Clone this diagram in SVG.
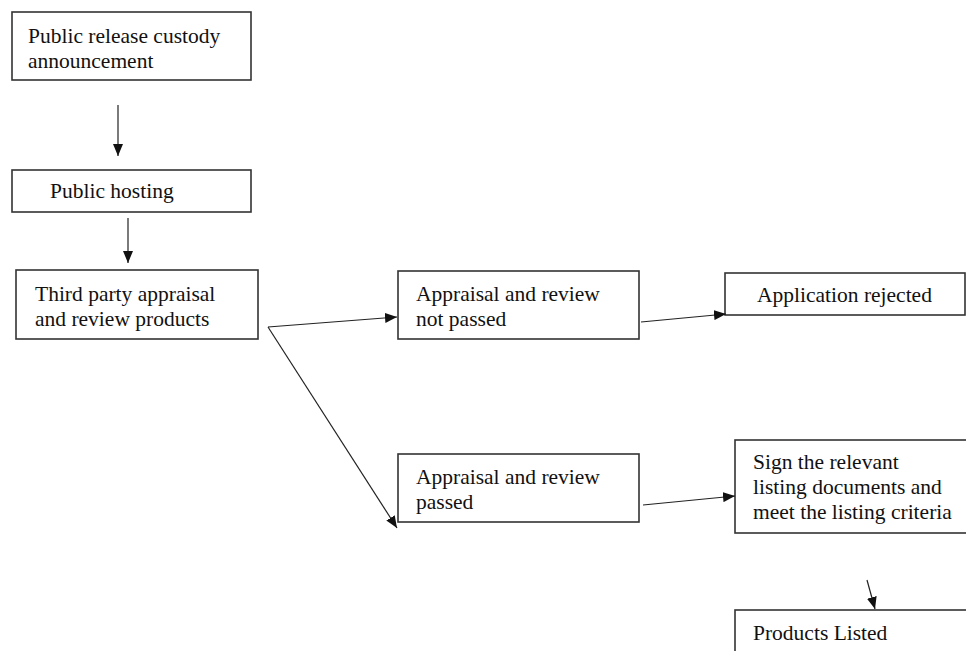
<svg xmlns="http://www.w3.org/2000/svg" width="966" height="651" viewBox="0 0 966 651">
<style>
.box{fill:#fff;stroke:#333;stroke-width:1.6}
.t{font-family:"Liberation Serif","Times New Roman",serif;font-size:21.5px;fill:#111}
.c{stroke:#222;stroke-width:1.2;fill:none}
</style>
<defs>
<marker id="ah" viewBox="0 0 12 10" refX="12" refY="5" markerWidth="12" markerHeight="10" markerUnits="userSpaceOnUse" orient="auto">
<path d="M0,0 L12,5 L0,10 z" fill="#111"/>
</marker>
</defs>
<rect width="966" height="651" fill="#fff"/>
<g id="n1"><rect class="box" x="12" y="12" width="239" height="68"/>
<text class="t" x="28" y="43">Public release custody</text><text class="t" x="28" y="68">announcement</text></g>
<g id="n2"><rect class="box" x="12" y="170" width="239" height="42"/>
<text class="t" x="50" y="198">Public hosting</text></g>
<g id="n3"><rect class="box" x="16" y="270" width="242" height="69"/>
<text class="t" x="35" y="301">Third party appraisal</text><text class="t" x="35" y="326">and review products</text></g>
<g id="n4"><rect class="box" x="398" y="271" width="241" height="68"/>
<text class="t" x="416" y="301">Appraisal and review</text><text class="t" x="416" y="326">not passed</text></g>
<g id="n5"><rect class="box" x="398" y="454" width="241" height="68"/>
<text class="t" x="416" y="484">Appraisal and review</text><text class="t" x="416" y="509">passed</text></g>
<g id="n6"><rect class="box" x="725" y="273" width="240" height="42"/>
<text class="t" x="757" y="302">Application rejected</text></g>
<g id="n7"><rect class="box" x="735" y="440" width="235" height="93"/>
<text class="t" x="753" y="469">Sign the relevant</text><text class="t" x="753" y="494">listing documents and</text><text class="t" x="753" y="519">meet the listing criteria</text></g>
<g id="n8"><rect class="box" x="735" y="610" width="235" height="50"/>
<text class="t" x="753" y="640">Products Listed</text></g>
<g id="connectors">
<line class="c" x1="118" y1="105" x2="118" y2="156" marker-end="url(#ah)"/>
<line class="c" x1="128" y1="218" x2="128" y2="263" marker-end="url(#ah)"/>
<line class="c" x1="268" y1="327" x2="397" y2="317" marker-end="url(#ah)"/>
<line class="c" x1="268" y1="327" x2="397" y2="528" marker-end="url(#ah)"/>
<line class="c" x1="641" y1="322" x2="726" y2="314" marker-end="url(#ah)"/>
<line class="c" x1="643" y1="505" x2="735" y2="496" marker-end="url(#ah)"/>
<line class="c" x1="867" y1="580" x2="875" y2="609" marker-end="url(#ah)"/>
</g>
</svg>
